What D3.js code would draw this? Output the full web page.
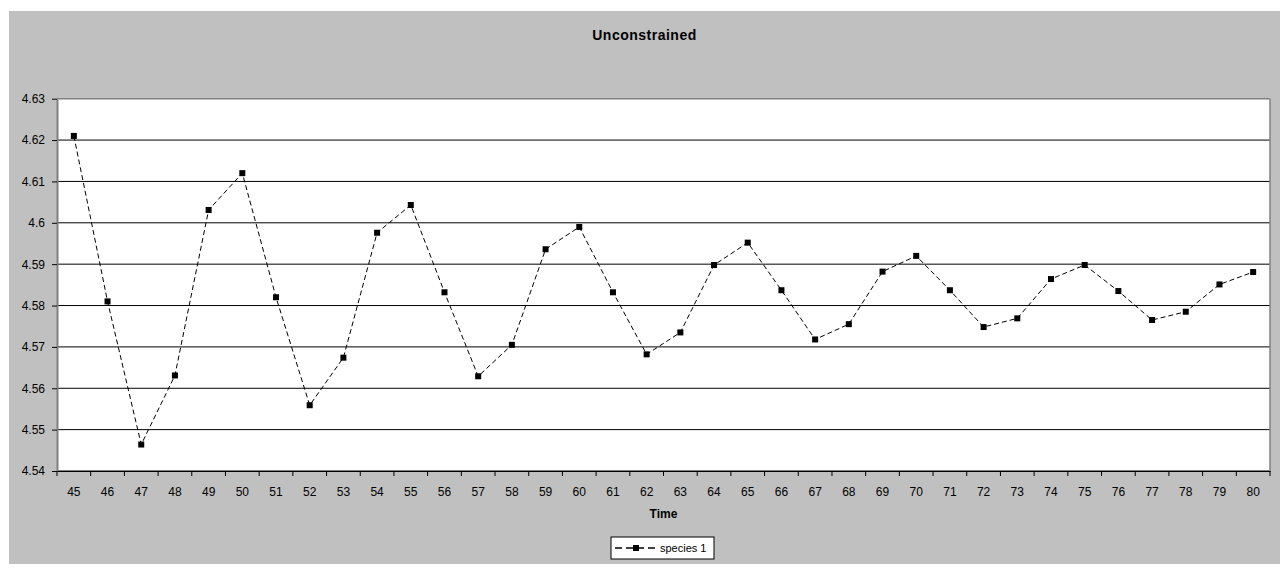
<!DOCTYPE html>
<html>
<head>
<meta charset="utf-8">
<script src="https://cdn.jsdelivr.net/npm/d3@7"></script>
<style>
  body { margin: 0; background: #fff; }
  svg { display: block; font-family: "Liberation Sans", Arial, sans-serif; }
</style>
</head>
<body>
<div id="chart"></div>
<script>
const times = [45, 46, 47, 48, 49, 50, 51, 52, 53, 54, 55, 56, 57, 58, 59, 60, 61, 62,
  63, 64, 65, 66, 67, 68, 69, 70, 71, 72, 73, 74, 75, 76, 77, 78, 79, 80];

const species1 = [4.6210, 4.5810, 4.5464, 4.5631, 4.6031, 4.6120, 4.5820, 4.5559, 4.5674,
  4.5976, 4.6043, 4.5832, 4.5629, 4.5705, 4.5936, 4.5990, 4.5832, 4.5682, 4.5735,
  4.5898, 4.5952, 4.5837, 4.5718, 4.5755, 4.5882, 4.5920, 4.5837, 4.5748, 4.5769,
  4.5864, 4.5898, 4.5835, 4.5765, 4.5785, 4.5851, 4.5881];

const yTicks = [4.54, 4.55, 4.56, 4.57, 4.58, 4.59, 4.6, 4.61, 4.62, 4.63];

const width = 1280, height = 570;
const plot = { left: 57, right: 1270, top: 98.7, bottom: 471 };

const svg = d3.select("#chart")
  .append("svg")
  .attr("width", width)
  .attr("height", height);

// chart area
svg.append("rect")
  .attr("x", 9).attr("y", 11)
  .attr("width", width - 9).attr("height", 564 - 11)
  .attr("fill", "#c0c0c0");

svg.append("rect")
  .attr("x", plot.left).attr("y", plot.top)
  .attr("width", plot.right - plot.left).attr("height", plot.bottom - plot.top)
  .attr("fill", "#fff");

const x = d3.scaleBand()
  .domain(times)
  .range([plot.left, plot.right])
  .padding(0);

const y = d3.scaleLinear()
  .domain([4.54, 4.63])
  .range([plot.bottom, plot.top]);

// gridlines (top one is the plot border, gray)
svg.append("g")
  .selectAll("line")
  .data(yTicks)
  .join("line")
  .attr("x1", plot.left).attr("x2", plot.right)
  .attr("y1", d => y(d)).attr("y2", d => y(d))
  .attr("stroke", d => d === 4.63 ? "#808080" : "#000")
  .attr("stroke-width", d => d === 4.63 ? 1.5 : 1);

// right border of plot
svg.append("line")
  .attr("x1", plot.right).attr("x2", plot.right)
  .attr("y1", plot.top).attr("y2", plot.bottom)
  .attr("stroke", "#808080")
  .attr("stroke-width", 1.5);

// y axis
const yAxis = svg.append("g")
  .attr("transform", `translate(${plot.left},0)`)
  .call(d3.axisLeft(y).tickValues(yTicks).tickFormat(d3.format(".3~g")).tickSize(5).tickSizeOuter(0));
yAxis.select(".domain").attr("stroke", "#808080").attr("stroke-width", 2);
yAxis.selectAll(".tick line").attr("stroke", "#000");
yAxis.selectAll("text")
  .attr("font-size", 12)
  .attr("font-family", "Liberation Sans, Arial, sans-serif")
  .attr("fill", "#000")
  .attr("x", -12);

// x axis
const xAxis = svg.append("g")
  .attr("transform", `translate(0,${plot.bottom})`)
  .call(d3.axisBottom(x).tickSize(0).tickPadding(16));
xAxis.select(".domain").attr("stroke", "#000");
xAxis.selectAll("text")
  .attr("font-size", 12)
  .attr("font-family", "Liberation Sans, Arial, sans-serif")
  .attr("fill", "#000");

// tick marks at band boundaries
svg.append("g")
  .selectAll("line")
  .data(times.concat(["end"]))
  .join("line")
  .attr("x1", d => d === "end" ? plot.right : x(d))
  .attr("x2", d => d === "end" ? plot.right : x(d))
  .attr("y1", plot.bottom).attr("y2", plot.bottom + 5)
  .attr("stroke", "#000");

// series line
const cx = (d, i) => x(times[i]) + x.bandwidth() / 2;
svg.append("path")
  .datum(species1)
  .attr("fill", "none")
  .attr("stroke", "#000")
  .attr("stroke-width", 1)
  .attr("stroke-dasharray", "5,3")
  .attr("d", d3.line().x(cx).y(d => y(d)));

svg.append("g")
  .selectAll("rect")
  .data(species1)
  .join("rect")
  .attr("x", (d, i) => cx(d, i) - 3)
  .attr("y", d => y(d) - 3)
  .attr("width", 6).attr("height", 6)
  .attr("fill", "#000");

// title
svg.append("text")
  .attr("x", (9 + width) / 2).attr("y", 40)
  .attr("text-anchor", "middle")
  .attr("font-size", 14)
  .attr("letter-spacing", 0.5)
  .attr("font-weight", "bold")
  .text("Unconstrained");

svg.append("text")
  .attr("x", (plot.left + plot.right) / 2).attr("y", 518)
  .attr("text-anchor", "middle")
  .attr("font-size", 12)
  .attr("font-weight", "bold")
  .text("Time");

// legend
const legend = svg.append("g").attr("transform", "translate(611,537)");
legend.append("rect")
  .attr("x", 0).attr("y", 0)
  .attr("width", 103).attr("height", 22)
  .attr("fill", "#fff")
  .attr("stroke", "#000");
legend.append("line")
  .attr("x1", 4).attr("x2", 47)
  .attr("y1", 11).attr("y2", 11)
  .attr("stroke", "#000")
  .attr("stroke-width", 1.5)
  .attr("stroke-dasharray", "7,4");
legend.append("rect")
  .attr("x", 22).attr("y", 8)
  .attr("width", 6).attr("height", 6)
  .attr("fill", "#000");
legend.append("text")
  .attr("x", 49).attr("y", 15)
  .attr("font-size", 11)
  .text("species 1");
</script>
</body>
</html>
